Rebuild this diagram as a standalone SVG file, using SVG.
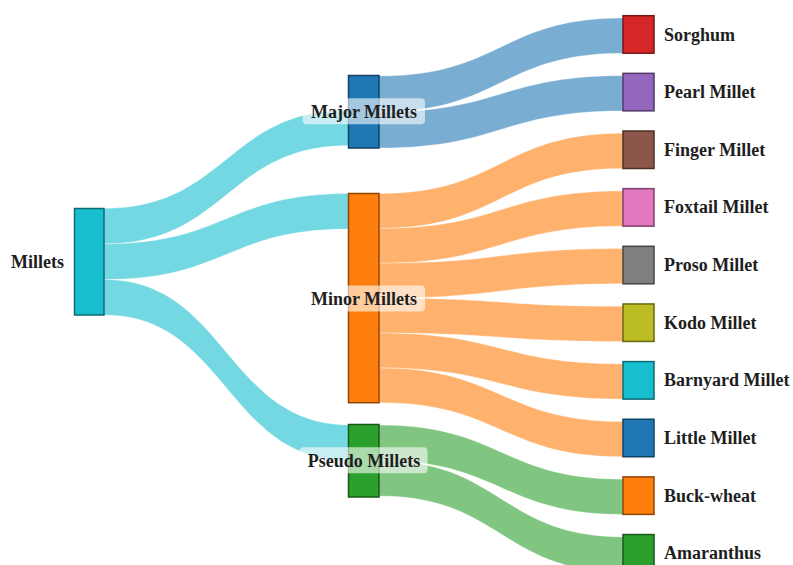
<svg xmlns="http://www.w3.org/2000/svg" width="793" height="565" viewBox="0 0 793 565">
<style>
.lk{fill-opacity:0.6;stroke:#fff;stroke-width:0.5;stroke-opacity:0.6}
.c{fill:#17becf}.b{fill:#1f77b4}.o{fill:#ff7f0e}.g{fill:#2ca02c}
.nd{stroke-width:1.5}
.lb{font-family:"Liberation Serif","Times New Roman",serif;font-weight:bold;font-size:18px;fill:#1e1e1e}
.bx{fill:#fff;fill-opacity:0.6}
</style>
<rect width="793" height="565" fill="#fff"/>
<g id="links">
<path class="lk c" d="M104,208.3 C226.5,208.3 226.5,110 349,110 L349,145.6 C226.5,145.6 226.5,243.9 104,243.9 Z"/>
<path class="lk c" d="M104,243.9 C226.5,243.9 226.5,193.5 349,193.5 L349,229.1 C226.5,229.1 226.5,279.5 104,279.5 Z"/>
<path class="lk c" d="M104,279.5 C226.5,279.5 226.5,425 349,425 L349,460.6 C226.5,460.6 226.5,315 104,315 Z"/>
<path class="lk b" d="M379,76 C501,76 501,18 623,18 L623,53.2 C501,53.2 501,112 379,112 Z"/>
<path class="lk b" d="M379,112 C501,112 501,75.7 623,75.7 L623,110.9 C501,110.9 501,148 379,148 Z"/>
<path class="lk o" d="M379,193.5 C501,193.5 501,133.3 623,133.3 L623,168.5 C501,168.5 501,228.4 379,228.4 Z"/>
<path class="lk o" d="M379,228.4 C501,228.4 501,191 623,191 L623,226.2 C501,226.2 501,263.2 379,263.2 Z"/>
<path class="lk o" d="M379,263.2 C501,263.2 501,248.6 623,248.6 L623,283.8 C501,283.8 501,298.1 379,298.1 Z"/>
<path class="lk o" d="M379,298.1 C501,298.1 501,306.3 623,306.3 L623,341.5 C501,341.5 501,333 379,333 Z"/>
<path class="lk o" d="M379,333 C501,333 501,363.9 623,363.9 L623,399.1 C501,399.1 501,367.9 379,367.9 Z"/>
<path class="lk o" d="M379,367.9 C501,367.9 501,421.6 623,421.6 L623,456.8 C501,456.8 501,402.7 379,402.7 Z"/>
<path class="lk g" d="M379,425 C501,425 501,479.2 623,479.2 L623,514.4 C501,514.4 501,460.5 379,460.5 Z"/>
<path class="lk g" d="M379,460.5 C501,460.5 501,536.9 623,536.9 L623,572 C501,572 501,496 379,496 Z"/>
</g>
<g id="node-millets">
<rect class="nd" x="74.5" y="208.5" width="29.5" height="106.5" fill="#17becf" stroke="#0d6972"/>
<text class="lb" x="64" y="268" text-anchor="end">Millets</text>
</g>
<g id="node-major">
<rect class="nd" x="348.5" y="75.5" width="30.5" height="72.5" fill="#1f77b4" stroke="#114263"/>
<rect class="bx" x="302.7" y="98.3" width="122.3" height="26" rx="4"/>
<text class="lb" x="364" y="118.2" text-anchor="middle">Major Millets</text>
</g>
<g id="node-minor">
<rect class="nd" x="348.5" y="193.5" width="30.5" height="209.2" fill="#ff7f0e" stroke="#8c4608"/>
<rect class="bx" x="302.7" y="285.5" width="122.3" height="26" rx="4"/>
<text class="lb" x="364" y="305" text-anchor="middle">Minor Millets</text>
</g>
<g id="node-pseudo">
<rect class="nd" x="348.5" y="424.5" width="30.5" height="72.5" fill="#2ca02c" stroke="#185818"/>
<rect class="bx" x="299.5" y="447.3" width="128" height="26" rx="4"/>
<text class="lb" x="364" y="467" text-anchor="middle">Pseudo Millets</text>
</g>
<g id="node-sorghum">
<rect class="nd" x="623" y="15.7" width="31" height="37.5" fill="#d62728" stroke="#761516"/>
<text class="lb" x="664" y="40.5">Sorghum</text>
</g>
<g id="node-pearl">
<rect class="nd" x="623" y="73.35" width="31" height="37.5" fill="#9467bd" stroke="#513968"/>
<text class="lb" x="664" y="98.1">Pearl Millet</text>
</g>
<g id="node-finger">
<rect class="nd" x="623" y="131" width="31" height="37.5" fill="#8c564b" stroke="#4d2f29"/>
<text class="lb" x="664" y="155.8">Finger Millet</text>
</g>
<g id="node-foxtail">
<rect class="nd" x="623" y="188.65" width="31" height="37.5" fill="#e377c2" stroke="#7d416b"/>
<text class="lb" x="664" y="213.4">Foxtail Millet</text>
</g>
<g id="node-proso">
<rect class="nd" x="623" y="246.3" width="31" height="37.5" fill="#7f7f7f" stroke="#464646"/>
<text class="lb" x="664" y="271.1">Proso Millet</text>
</g>
<g id="node-kodo">
<rect class="nd" x="623" y="303.95" width="31" height="37.5" fill="#bcbd22" stroke="#676813"/>
<text class="lb" x="664" y="328.7">Kodo Millet</text>
</g>
<g id="node-barnyard">
<rect class="nd" x="623" y="361.6" width="31" height="37.5" fill="#17becf" stroke="#0d6972"/>
<text class="lb" x="664" y="386.4">Barnyard Millet</text>
</g>
<g id="node-little">
<rect class="nd" x="623" y="419.25" width="31" height="37.5" fill="#1f77b4" stroke="#114263"/>
<text class="lb" x="664" y="444">Little Millet</text>
</g>
<g id="node-buckwheat">
<rect class="nd" x="623" y="476.9" width="31" height="37.5" fill="#ff7f0e" stroke="#8c4608"/>
<text class="lb" x="664" y="501.7">Buck-wheat</text>
</g>
<g id="node-amaranthus">
<rect class="nd" x="623" y="534.55" width="31" height="37.5" fill="#2ca02c" stroke="#185818"/>
<text class="lb" x="664" y="559.3">Amaranthus</text>
</g>
</svg>
